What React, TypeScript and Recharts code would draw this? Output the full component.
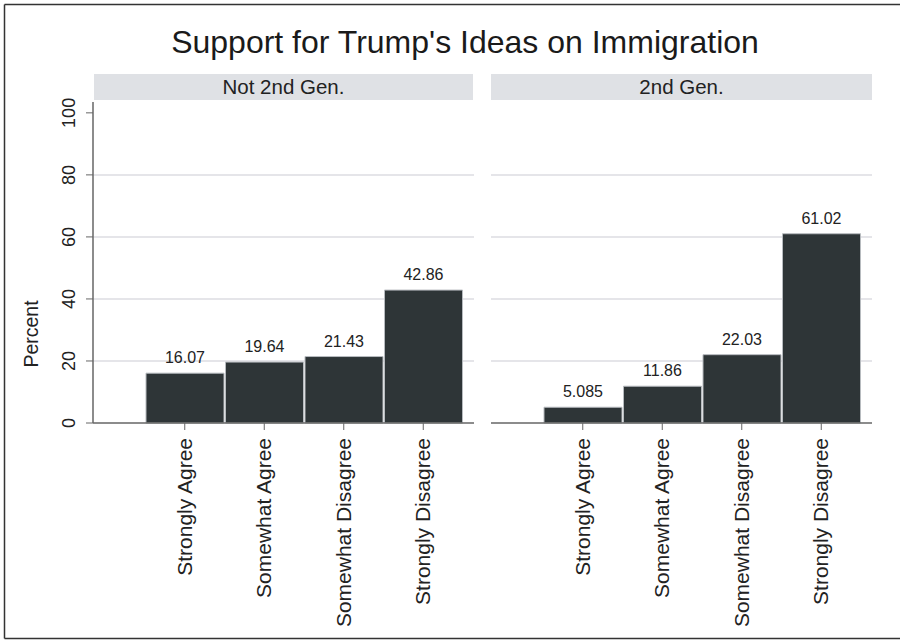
import { BarChart, Bar, XAxis, YAxis, CartesianGrid, LabelList } from "recharts";

const categories = ["Strongly Agree", "Somewhat Agree", "Somewhat Disagree", "Strongly Disagree"];
const notSecondGen = [16.07, 19.64, 21.43, 42.86];
const secondGen = [5.085, 11.86, 22.03, 61.02];
const yTicks = [0, 20, 40, 60, 80, 100];
const gridValues = [20, 40, 60, 80];
const panelTitles = ["Not 2nd Gen.", "2nd Gen."];
const chartTitle = "Support for Trump's Ideas on Immigration";
const yLabel = "Percent";

const FONT = "'Liberation Sans', Arial, Helvetica, sans-serif";
const TEXT = "#222";
const AXIS = "#666";
const GRID = "#dcdde2";
const BAR_FILL = "#2e3537";
const BAR_EDGE = "#b7bbbf";
const STRIP = "#dfe1e5";

const leftData = categories.map((c, i) => ({ cat: c, value: notSecondGen[i] }));
const rightData = categories.map((c, i) => ({ cat: c, value: secondGen[i] }));

function XTick(props: any) {
  const { x, y, payload } = props;
  const tx = x + 7;
  const ty = y + 6;
  return (
    <text
      x={tx}
      y={ty}
      transform={`rotate(-90, ${tx}, ${ty})`}
      textAnchor="end"
      fontSize={21}
      fontFamily={FONT}
      fill={TEXT}
    >
      {payload.value}
    </text>
  );
}

function YTick(props: any) {
  const { x, y, payload } = props;
  const tx = x - 9;
  return (
    <text
      x={tx}
      y={y}
      transform={`rotate(-90, ${tx}, ${y})`}
      textAnchor="middle"
      fontSize={18}
      fontFamily={FONT}
      fill={TEXT}
    >
      {payload.value}
    </text>
  );
}

function Panel({ data, showY }: { data: { cat: string; value: number }[]; showY: boolean }) {
  return (
    <BarChart
      width={showY ? 480 : 400}
      height={640}
      data={data}
      margin={{ top: 102, right: showY ? 6 : 8, bottom: 0, left: showY ? 0 : 11 }}
      style={{ fontFamily: FONT }}
    >
      <CartesianGrid vertical={false} horizontalValues={gridValues} stroke={GRID} strokeWidth={1.5} />
      <XAxis
        dataKey="cat"
        height={217}
        interval={0}
        padding={{ left: 52, right: 11 }}
        tickSize={7}
        stroke={AXIS}
        axisLine={{ stroke: AXIS, strokeWidth: 1.5 }}
        tickLine={{ stroke: AXIS }}
        tick={<XTick />}
      />
      <YAxis
        hide={!showY}
        width={93}
        domain={[0, 103.5]}
        ticks={yTicks}
        interval={0}
        tickSize={7}
        stroke={AXIS}
        axisLine={{ stroke: AXIS, strokeWidth: 1.5 }}
        tickLine={{ stroke: AXIS }}
        tick={<YTick />}
      />
      <Bar dataKey="value" fill={BAR_FILL} stroke={BAR_EDGE} strokeWidth={1} barSize={78} isAnimationActive={false}>
        <LabelList dataKey="value" position="top" offset={10} fontSize={16} fontFamily={FONT} fill={TEXT} />
      </Bar>
    </BarChart>
  );
}

export default function App() {
  return (
    <div style={{ position: "absolute", left: 0, top: 0, width: 900, height: 640, background: "#fff", overflow: "hidden" }}>
      <div style={{ position: "absolute", left: 0, top: 0 }}>
        <Panel data={leftData} showY={true} />
      </div>
      <div style={{ position: "absolute", left: 480, top: 0 }}>
        <Panel data={rightData} showY={false} />
      </div>
      <svg width={900} height={640} style={{ position: "absolute", left: 0, top: 0, pointerEvents: "none" }}>
        <line x1={4.5} y1={4.5} x2={900} y2={4.5} stroke="#333" strokeWidth={1.5} />
        <line x1={4.5} y1={4.5} x2={4.5} y2={638.5} stroke="#333" strokeWidth={1.5} />
        <line x1={4.5} y1={638.5} x2={900} y2={638.5} stroke="#333" strokeWidth={1.5} />
        <text x={465} y={53} textAnchor="middle" fontSize={32} fontFamily={FONT} fill="#1a1a1a">
          {chartTitle}
        </text>
        <rect x={94} y={74} width={379} height={26} fill={STRIP} />
        <rect x={491} y={74} width={381} height={26} fill={STRIP} />
        <text x={283.5} y={94} textAnchor="middle" fontSize={20.5} fontFamily={FONT} fill={TEXT}>
          {panelTitles[0]}
        </text>
        <text x={681.5} y={94} textAnchor="middle" fontSize={20.5} fontFamily={FONT} fill={TEXT}>
          {panelTitles[1]}
        </text>
        <text x={38} y={334} transform="rotate(-90, 38, 334)" textAnchor="middle" fontSize={19.5} fontFamily={FONT} fill={TEXT}>
          {yLabel}
        </text>
      </svg>
    </div>
  );
}
